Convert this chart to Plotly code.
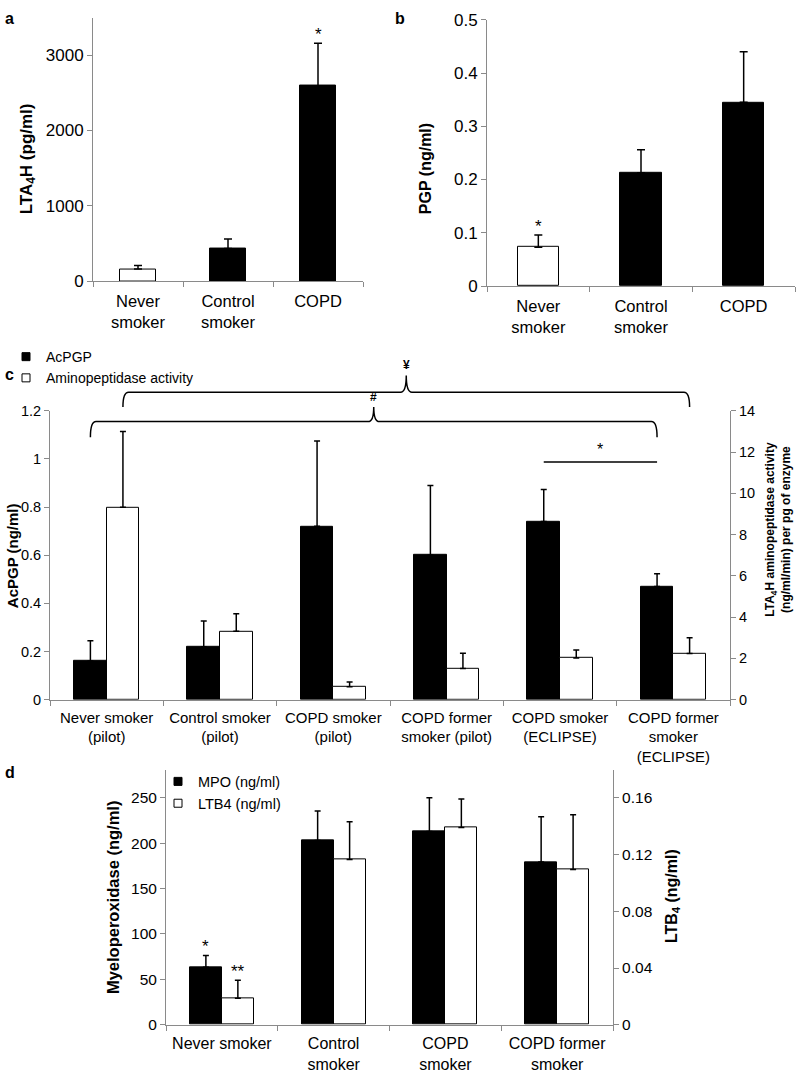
import plotly.graph_objects as go

# ---------------- data ----------------
cats_ab = ["Never<br>smoker", "Control<br>smoker", "COPD"]
lta4h_vals = [160, 432, 2595]
lta4h_sem = [46, 128, 565]
pgp_vals = [0.073, 0.213, 0.345]
pgp_sem = [0.023, 0.043, 0.095]

cats_c = ["Never smoker<br>(pilot)", "Control smoker<br>(pilot)", "COPD smoker<br>(pilot)",
          "COPD former<br>smoker (pilot)", "COPD smoker<br>(ECLIPSE)", "COPD former<br>smoker<br>(ECLIPSE)"]
acpgp_vals = [0.16, 0.22, 0.72, 0.60, 0.74, 0.47]
acpgp_sem = [0.085, 0.107, 0.355, 0.29, 0.133, 0.053]
amino_vals = [9.32, 3.31, 0.62, 1.51, 2.02, 2.24]
amino_sem = [3.68, 0.85, 0.24, 0.74, 0.38, 0.76]

cats_d = ["Never smoker", "Control<br>smoker", "COPD<br>smoker", "COPD former<br>smoker"]
mpo_vals = [63.4, 202.8, 212.6, 179.3]
mpo_sem = [13.0, 32.6, 37.4, 49.6]
ltb4_vals = [0.0187, 0.1164, 0.139, 0.1094]
ltb4_sem = [0.0126, 0.0266, 0.020, 0.0385]

a_ticks = [0, 1000, 2000, 3000]
b_ticks = [0, 0.1, 0.2, 0.3, 0.4, 0.5]
c_left_ticks = [0, 0.2, 0.4, 0.6, 0.8, 1.0, 1.2]
c_left_text = ["0", "0.2", "0.4", "0.6", "0.8", "1", "1.2"]
c_right_ticks = [0, 2, 4, 6, 8, 10, 12, 14]
d_left_ticks = [0, 50, 100, 150, 200, 250]
d_right_ticks = [0, 0.04, 0.08, 0.12, 0.16]
d_right_text = ["0", "0.04", "0.08", "0.12", "0.16"]

# ---------------- style ----------------
W, H = 798, 1080
FONT = "Liberation Sans, Arial, sans-serif"
GRAY = "#8a8a8a"


def px(x):
    return x / W


def py(y):
    return 1 - y / H


def err(sem, w=4):
    return dict(type="data", array=sem, arrayminus=[0] * len(sem), symmetric=False,
                color="black", thickness=1.5, width=w)


fig = go.Figure()

# panel a
fig.add_trace(go.Bar(x=list(range(3)), y=lta4h_vals, width=0.41,
                     marker=dict(color=["white", "black", "black"], line=dict(color="black", width=1)),
                     error_y=err(lta4h_sem), xaxis="x", yaxis="y", showlegend=False))
# panel b
fig.add_trace(go.Bar(x=list(range(3)), y=pgp_vals, width=0.40,
                     marker=dict(color=["white", "black", "black"], line=dict(color="black", width=1)),
                     error_y=err(pgp_sem), xaxis="x2", yaxis="y2", showlegend=False))
# panel c
wc = 0.287
fig.add_trace(go.Bar(x=list(range(6)), y=acpgp_vals, width=wc, offset=-wc, name="AcPGP",
                     marker=dict(color="black", line=dict(color="black", width=1)),
                     error_y=err(acpgp_sem, 3), xaxis="x3", yaxis="y3", showlegend=False))
fig.add_trace(go.Bar(x=list(range(6)), y=amino_vals, width=wc, offset=0, name="Aminopeptidase activity",
                     marker=dict(color="white", line=dict(color="black", width=1)),
                     error_y=err(amino_sem, 3), xaxis="x3", yaxis="y4", showlegend=False))
# panel d
wd = 0.286
fig.add_trace(go.Bar(x=list(range(4)), y=mpo_vals, width=wd, offset=-wd, name="MPO (ng/ml)",
                     marker=dict(color="black", line=dict(color="black", width=1)),
                     error_y=err(mpo_sem, 3), xaxis="x4", yaxis="y5", showlegend=False))
fig.add_trace(go.Bar(x=list(range(4)), y=ltb4_vals, width=wd, offset=0, name="LTB4 (ng/ml)",
                     marker=dict(color="white", line=dict(color="black", width=1)),
                     error_y=err(ltb4_sem, 3), xaxis="x4", yaxis="y6", showlegend=False))

# legend entries (small square swatches like the original)
for name, col, xa, ya, lg in [("AcPGP", "black", "x3", "y3", "legend"),
                              ("Aminopeptidase activity", "white", "x3", "y4", "legend"),
                              ("MPO (ng/ml)", "black", "x4", "y5", "legend2"),
                              ("LTB4 (ng/ml)", "white", "x4", "y6", "legend2")]:
    fig.add_trace(go.Scatter(x=[None], y=[None], mode="markers", name=name,
                             marker=dict(symbol="square", size=8, color=col, line=dict(color="black", width=1)),
                             xaxis=xa, yaxis=ya, legend=lg, showlegend=True, hoverinfo="skip"))


def xax(domain, n, labels, anchor, size, standoff):
    return dict(domain=domain, anchor=anchor, range=[-0.5, n - 0.5],
                tickmode="array", tickvals=list(range(n)), ticktext=labels, ticks="",
                ticklabelstandoff=standoff,
                minor=dict(tickmode="array", tickvals=[i - 0.5 for i in range(n + 1)],
                           ticks="outside", ticklen=5, tickcolor=GRAY, tickwidth=1, showgrid=False),
                showline=True, linecolor=GRAY, linewidth=1, showgrid=False, zeroline=False,
                tickfont=dict(size=size, color="black", family=FONT), fixedrange=True)


def yax(domain, rng, ticks, anchor, size, side="left", overlaying=None, text=None):
    d = dict(domain=domain, anchor=anchor, range=rng, tickmode="array", tickvals=ticks,
             ticks="outside", ticklen=5, tickcolor=GRAY, tickwidth=1,
             showline=True, linecolor=GRAY, linewidth=1, showgrid=False, zeroline=False,
             side=side, tickfont=dict(size=size, color="black", family=FONT), fixedrange=True)
    if text is not None:
        d["ticktext"] = text
    if overlaying:
        d["overlaying"] = overlaying
    return d


layout = dict(
    width=W, height=H, margin=dict(l=0, r=0, t=0, b=0),
    paper_bgcolor="white", plot_bgcolor="white",
    font=dict(family=FONT, color="black"),
    barmode="overlay", bargap=0,
    xaxis=xax([px(93), px(363)], 3, cats_ab, "y", 16.5, 5),
    yaxis=yax([py(277), py(8.7)], [0, 3500], a_ticks, "x", 17),
    xaxis2=xax([px(487), px(795)], 3, cats_ab, "y2", 16.5, 5),
    yaxis2=yax([py(282), py(11)], [0, 0.5], b_ticks, "x2", 17),
    xaxis3=xax([px(50), px(730)], 6, cats_c, "y3", 15, 4),
    yaxis3=yax([py(703), py(409)], [0, 1.2], c_left_ticks, "x3", 14.5, text=c_left_text),
    yaxis4=yax([py(703), py(409)], [0, 14], c_right_ticks, "x3", 14.5, side="right", overlaying="y3"),
    xaxis4=xax([px(166), px(613)], 4, cats_d, "y5", 16, 4),
    yaxis5=yax([py(1034), py(775)], [0, 280], d_left_ticks, "x4", 15.5),
    yaxis6=yax([py(1034), py(775)], [0, 0.1792], d_right_ticks, "x4", 15.5, side="right", overlaying="y5",
               text=d_right_text),
    legend=dict(x=px(6), y=py(338), xanchor="left", yanchor="top", bgcolor="rgba(0,0,0,0)",
                font=dict(size=14, family=FONT), itemwidth=30, tracegroupgap=0, traceorder="normal",
                itemsizing="trace"),
    legend2=dict(x=px(158), y=py(770), xanchor="left", yanchor="top", bgcolor="rgba(0,0,0,0)",
                 font=dict(size=14.5, family=FONT), itemwidth=30, tracegroupgap=0, traceorder="normal",
                 itemsizing="trace"),
)
fig.update_layout(**layout)

ann = []


def label(text, x, y, size=16, angle=0, bold=True, xanchor="center", yanchor="middle"):
    ann.append(dict(text=f"<b>{text}</b>" if bold else text, x=px(x), y=py(y), xref="paper", yref="paper",
                    showarrow=False, textangle=angle, font=dict(size=size, family=FONT, color="black"),
                    xanchor=xanchor, yanchor=yanchor))


# panel letters
label("a", 3, 10, 16, xanchor="left")
label("b", 393, 10, 16, xanchor="left")
label("c", 3, 372, 16, xanchor="left")
label("d", 3, 777, 16, xanchor="left")

# axis titles
label("LTA<sub>4</sub>H (pg/ml)", 28, 153, 17, -90)
label("PGP (ng/ml)", 425, 163, 16, -90)
label("AcPGP (ng/ml)", 12, 557, 15, -90)
label("LTA<sub>4</sub>H aminopeptidase activity<br>(ng/ml/min) per pg of enzyme", 778, 530, 12, -90)
label("Myeloperoxidase (ng/ml)", 113, 905, 16.5, -90)
label("LTB<sub>4</sub> (ng/ml)", 672, 903, 16, -90)


# significance marks anchored to data
def star(text, xref, yref, x, y, size=15, shift=2):
    ann.append(dict(text=text, x=x, y=y, xref=xref, yref=yref, showarrow=False,
                    yanchor="bottom", yshift=shift, font=dict(size=size, family=FONT, color="black")))


star("*", "x", "y", 2, lta4h_vals[2] + lta4h_sem[2], 17, -3)
star("*", "x2", "y2", 0, pgp_vals[0] + pgp_sem[0], 17, -3)
star("*", "x4", "y5", -wd / 2, mpo_vals[0] + mpo_sem[0], 17, -3)
star("**", "x4", "y6", wd / 2, ltb4_vals[0] + ltb4_sem[0], 17, -3)

# braces in panel c
shapes = []


def brace(x0, x1, yl, ye, yp, dx=0.05):
    xc = (x0 + x1) / 2
    yl, ye, yp = py(yl), py(ye), py(yp)
    path = (f"M {x0},{ye} Q {x0},{yl} {x0 + dx},{yl} L {xc - dx},{yl} "
            f"Q {xc},{yl} {xc},{yp} Q {xc},{yl} {xc + dx},{yl} L {x1 - dx},{yl} "
            f"Q {x1},{yl} {x1},{ye}")
    shapes.append(dict(type="path", path=path, xref="x3", yref="paper",
                       line=dict(color="black", width=1.5)))
    return xc


hx = brace(0 - wc / 2, 5 - wc / 2, 420, 436, 405)
ann.append(dict(text="<b>#</b>", x=hx, y=py(404), xref="x3", yref="paper", showarrow=False,
                yanchor="bottom", font=dict(size=12, family=FONT, color="black")))
yx = brace(0 + wc / 2, 5 + wc / 2, 390, 405, 373)
ann.append(dict(text="<b>¥</b>", x=yx, y=py(372), xref="x3", yref="paper", showarrow=False,
                yanchor="bottom", font=dict(size=12, family=FONT, color="black")))

s0, s1 = 4 - wc / 2, 5 - wc / 2
shapes.append(dict(type="line", x0=s0, x1=s1, y0=py(461), y1=py(461), xref="x3", yref="paper",
                   line=dict(color="black", width=1.5)))
ann.append(dict(text="*", x=(s0 + s1) / 2, y=py(459), xref="x3", yref="paper", showarrow=False,
                yanchor="bottom", font=dict(size=16, family=FONT, color="black")))

fig.update_layout(annotations=ann, shapes=shapes)
fig.write_html("out.html", config={"displayModeBar": False},
               post_script="document.body.style.margin='0px';document.body.style.overflow='hidden';")
